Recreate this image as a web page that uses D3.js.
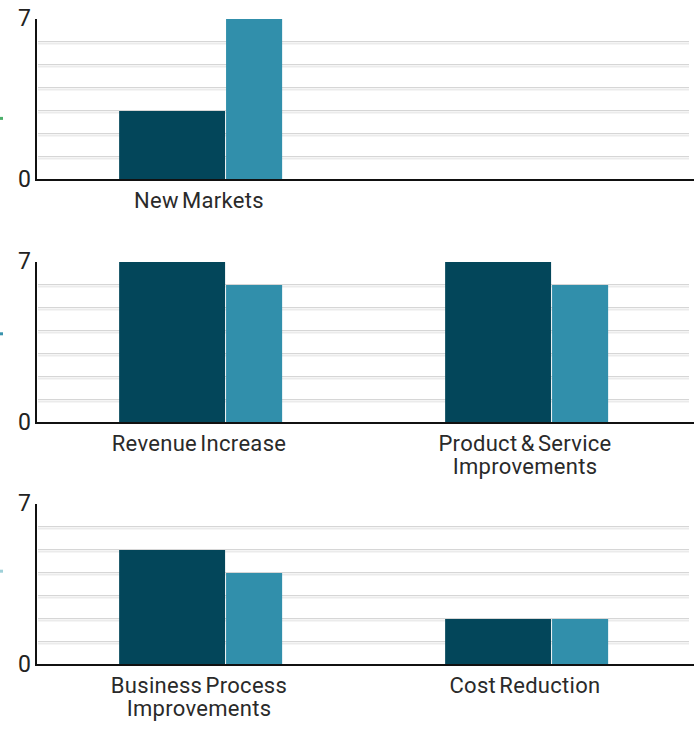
<!DOCTYPE html>
<html>
<head>
<meta charset="utf-8">
<script src="https://cdn.jsdelivr.net/npm/d3@7"></script>
<style>
body { margin: 0; background: #fff; }
text { font-family: Roboto, "Open Sans", sans-serif; }
</style>
</head>
<body>
<div id="graph"></div>
<script>
// data
var categories = ["New Markets", "Revenue Increase", "Product & Service Improvements",
                  "Business Process Improvements", "Cost Reduction"];
var panelOf = [0, 1, 1, 2, 2];
var seriesA = [3, 7, 7, 5, 2];
var seriesB = [7, 6, 6, 4, 2];
var yTicks = [0, 7];
var gridTicks = [1, 2, 3, 4, 5, 6];
var markColors = ["#4caf6a", "#3a93ad", "#9fd0d8"];
var markVals = [2.7, 3.9, 4.1];

var W = 694, H = 729;
var svg = d3.select("#graph").append("svg").attr("width", W).attr("height", H);

var panelTop = [19, 262, 504];
var panelH = 161;

var x = d3.scaleBand().domain([0, 1]).range([36, 688]).padding(0);

function wrap(sel, width) {
  sel.each(function() {
    var t = d3.select(this), words = t.text().split(/\s+/), line = [], lines = [];
    words.forEach(function(w) {
      line.push(w);
      if (line.join(" ").length * 11 > width && line.length > 1) {
        line.pop(); lines.push(line.join(" ")); line = [w];
      }
    });
    lines.push(line.join(" "));
    t.text(null);
    lines.forEach(function(l, i) {
      t.append("tspan").attr("x", t.attr("x")).attr("dy", i ? 23 : 0).text(l);
    });
  });
}

for (var p = 0; p < 3; p++) {
  var g = svg.append("g");
  var y = d3.scaleLinear().domain([0, 7]).range([panelTop[p] + panelH, panelTop[p]]);
  var idx = d3.range(categories.length).filter(function(i) { return panelOf[i] === p; });

  // doubled light gridlines
  g.selectAll("line.ga").data(gridTicks).enter().append("line")
    .attr("x1", 38).attr("x2", 689)
    .attr("y1", function(d) { return Math.round(y(d)) - 0.5; })
    .attr("y2", function(d) { return Math.round(y(d)) - 0.5; })
    .attr("stroke", "#d6d6d6").attr("stroke-width", 1);
  g.selectAll("line.gb").data(gridTicks).enter().append("line")
    .attr("x1", 38).attr("x2", 689)
    .attr("y1", function(d) { return Math.round(y(d)) + 1.5; })
    .attr("y2", function(d) { return Math.round(y(d)) + 1.5; })
    .attr("stroke", "#ebebeb").attr("stroke-width", 2);

  // bars
  var bw = x.bandwidth();
  g.selectAll("rect.a").data(idx).enter().append("rect")
    .attr("x", function(i, k) { return x(k) + bw * 0.255; })
    .attr("width", bw * 0.325)
    .attr("y", function(i) { return y(seriesA[i]); })
    .attr("height", function(i) { return y(0) - y(seriesA[i]); })
    .attr("fill", "#03465a");
  g.selectAll("rect.b").data(idx).enter().append("rect")
    .attr("x", function(i, k) { return x(k) + bw * 0.583; })
    .attr("width", bw * 0.172)
    .attr("y", function(i) { return y(seriesB[i]); })
    .attr("height", function(i) { return y(0) - y(seriesB[i]); })
    .attr("fill", "#318fab");

  // axes
  g.append("line").attr("x1", 36).attr("x2", 36)
    .attr("y1", y(7)).attr("y2", y(0) + 1)
    .attr("stroke", "#111").attr("stroke-width", 2);
  g.append("line").attr("x1", 35).attr("x2", W)
    .attr("y1", y(0)).attr("y2", y(0))
    .attr("stroke", "#111").attr("stroke-width", 2);

  g.selectAll("text.tick").data(yTicks).enter().append("text")
    .attr("x", 31).attr("y", function(d) { return y(d) + 7; })
    .attr("text-anchor", "end").attr("font-size", 23).attr("fill", "#222")
    .text(function(d) { return d; });

  g.selectAll("text.cat").data(idx).enter().append("text")
    .attr("x", function(i, k) { return x(k) + bw * 0.5; })
    .attr("y", y(0) + 28)
    .attr("text-anchor", "middle").attr("font-size", 22).attr("fill", "#2a2a2a")
    .attr("letter-spacing", 0.3).attr("word-spacing", -2.5)
    .text(function(i) { return categories[i]; })
    .call(wrap, 200);

  // cut-off legend marks at the left edge
  g.append("rect").attr("x", 0).attr("y", y(markVals[p]) - 1).attr("width", 3).attr("height", 3)
    .attr("fill", markColors[p]);
}
</script>
</body>
</html>
